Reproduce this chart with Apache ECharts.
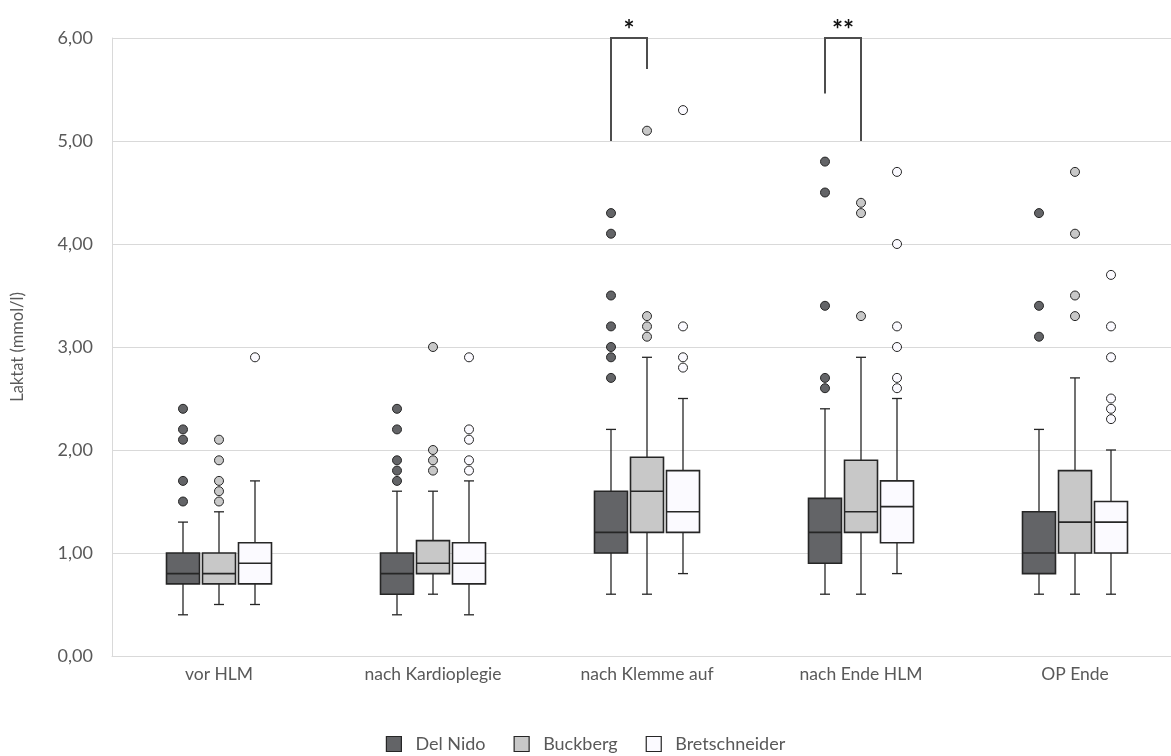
<!DOCTYPE html>
<html>
<head>
<meta charset="utf-8">
<script src="https://cdn.jsdelivr.net/npm/echarts@6/dist/echarts.min.js"></script>
<style>
  html, body { margin: 0; padding: 0; background: #ffffff; }
  #chart { width: 1171px; height: 756px; }
</style>
</head>
<body>
<div id="chart"></div>
<script>
// Time points of the lactate measurements
const categories = ['vor HLM', 'nach Kardioplegie', 'nach Klemme auf', 'nach Ende HLM', 'OP Ende'];
const groupNames = ['Del Nido', 'Buckberg', 'Bretschneider'];

// Five-number summaries per time point: [min, Q1, median, Q3, max] (mmol/l)
const delNidoBoxes = [
  [0.4, 0.7, 0.8, 1.0, 1.3],
  [0.4, 0.6, 0.8, 1.0, 1.6],
  [0.6, 1.0, 1.2, 1.6, 2.2],
  [0.6, 0.9, 1.2, 1.53, 2.4],
  [0.6, 0.8, 1.0, 1.4, 2.2]
];
const buckbergBoxes = [
  [0.5, 0.7, 0.8, 1.0, 1.4],
  [0.6, 0.8, 0.9, 1.12, 1.6],
  [0.6, 1.2, 1.6, 1.93, 2.9],
  [0.6, 1.2, 1.4, 1.9, 2.9],
  [0.6, 1.0, 1.3, 1.8, 2.7]
];
const bretschneiderBoxes = [
  [0.5, 0.7, 0.9, 1.1, 1.7],
  [0.4, 0.7, 0.9, 1.1, 1.7],
  [0.8, 1.2, 1.4, 1.8, 2.5],
  [0.8, 1.1, 1.45, 1.7, 2.5],
  [0.6, 1.0, 1.3, 1.5, 2.0]
];

// Outliers per time point (mmol/l)
const delNidoOutliers = [
  [2.4, 2.2, 2.1, 1.7, 1.5],
  [2.4, 2.2, 1.9, 1.8, 1.7],
  [4.3, 4.1, 3.5, 3.2, 3.0, 2.9, 2.7],
  [4.8, 4.5, 3.4, 2.7, 2.6],
  [4.3, 3.4, 3.1]
];
const buckbergOutliers = [
  [2.1, 1.9, 1.7, 1.6, 1.5],
  [3.0, 2.0, 1.9, 1.8],
  [5.1, 3.3, 3.2, 3.1],
  [4.4, 4.3, 3.3],
  [4.7, 4.1, 3.5, 3.3]
];
const bretschneiderOutliers = [
  [2.9],
  [2.9, 2.2, 2.1, 1.9, 1.8],
  [5.3, 3.2, 2.9, 2.8],
  [4.7, 4.0, 3.2, 3.0, 2.7, 2.6],
  [3.7, 3.2, 2.9, 2.5, 2.4, 2.3]
];

// Significance brackets: time point, compared groups, leg ends, top, marker
const bracketCategory = [2, 3];
const bracketFromGroup = [0, 0];
const bracketToGroup = [1, 1];
const bracketFromLow = [5.0, 5.46];
const bracketToLow = [5.7, 5.0];
const bracketTop = [6.0, 6.0];
const bracketLabels = ['*', '**'];

// Value axis
const yMin = 0, yMax = 6, yStep = 1;

// Styling
const fills = ['#636467', '#c8c8c8', '#fbfaff'];
const edge = '#262626';
const textGrey = '#595959';
const gridGrey = '#d9d9d9';
const FONT = 'Lato, "Open Sans", sans-serif';

// Layout of the three boxes inside one category band (pixels)
const SLOT_PX = 36;
const BOX_PX = 33;
const CAP_PX = 10;

function boxRenderer(slot) {
  return function (params, api) {
    const cat = api.value(0);
    const cx = api.coord([cat, 0])[0] + (slot - 1) * SLOT_PX;
    const py = (i) => api.coord([cat, api.value(i)])[1];
    const yLo = py(1), yQ1 = py(2), yMed = py(3), yQ3 = py(4), yHi = py(5);
    const hw = BOX_PX / 2, cw = CAP_PX / 2;
    const ls = { stroke: edge, lineWidth: 1.3 };
    return {
      type: 'group',
      children: [
        { type: 'line', shape: { x1: cx, y1: yHi, x2: cx, y2: yQ3 }, style: ls },
        { type: 'line', shape: { x1: cx, y1: yQ1, x2: cx, y2: yLo }, style: ls },
        { type: 'line', shape: { x1: cx - cw, y1: yHi, x2: cx + cw, y2: yHi }, style: ls },
        { type: 'line', shape: { x1: cx - cw, y1: yLo, x2: cx + cw, y2: yLo }, style: ls },
        { type: 'rect', shape: { x: cx - hw, y: yQ3, width: BOX_PX, height: yQ1 - yQ3 },
          style: { fill: fills[slot], stroke: edge, lineWidth: 1.6 } },
        { type: 'line', shape: { x1: cx - hw, y1: yMed, x2: cx + hw, y2: yMed },
          style: { stroke: edge, lineWidth: 1.6 } }
      ]
    };
  };
}

function boxData(boxes) {
  return boxes.map((b, i) => [i].concat(b));
}
function outlierData(outliers) {
  const out = [];
  outliers.forEach((vals, i) => vals.forEach(v => out.push([i, v])));
  return out;
}

const boxSets = [delNidoBoxes, buckbergBoxes, bretschneiderBoxes];
const outlierSets = [delNidoOutliers, buckbergOutliers, bretschneiderOutliers];

const series = [];
groupNames.forEach((name, slot) => {
  series.push({
    name: name,
    type: 'custom',
    renderItem: boxRenderer(slot),
    itemStyle: { color: fills[slot], borderColor: edge, borderWidth: 1.2 },
    encode: { x: 0, y: [1, 2, 3, 4, 5] },
    data: boxData(boxSets[slot]),
    clip: false,
    z: 2
  });
  series.push({
    name: name,
    type: 'scatter',
    symbol: 'circle',
    symbolSize: 9,
    symbolOffset: [(slot - 1) * SLOT_PX, 0],
    itemStyle: { color: fills[slot], borderColor: edge, borderWidth: 1, opacity: 1 },
    data: outlierData(outlierSets[slot]),
    clip: false,
    z: 3
  });
});

// Significance brackets with their markers
series.push({
  type: 'custom',
  renderItem: function (params, api) {
    const i = params.dataIndex;
    const cat = api.value(0);
    const base = api.coord([cat, 0])[0];
    const xL = base + (bracketFromGroup[i] - 1) * SLOT_PX;
    const xR = base + (bracketToGroup[i] - 1) * SLOT_PX;
    const yL = api.coord([cat, api.value(1)])[1];
    const yR = api.coord([cat, api.value(2)])[1];
    const yT = api.coord([cat, api.value(3)])[1];
    return {
      type: 'group',
      children: [
        { type: 'polyline', shape: { points: [[xL, yL], [xL, yT], [xR, yT], [xR, yR]] },
          style: { stroke: '#4d4d4d', lineWidth: 2, fill: null } },
        { type: 'text', x: (xL + xR) / 2, y: yT + 6,
          style: { text: bracketLabels[i], fill: '#111111', font: 'bold 26px ' + FONT,
                   textAlign: 'center', textVerticalAlign: 'bottom' } }
      ]
    };
  },
  encode: { x: 0, y: [1, 2, 3] },
  data: bracketCategory.map((c, i) => [c, bracketFromLow[i], bracketToLow[i], bracketTop[i]]),
  clip: false,
  z: 4,
  silent: true
});

const chart = echarts.init(document.getElementById('chart'), null, { renderer: 'canvas' });
chart.setOption({
  animation: false,
  backgroundColor: '#ffffff',
  textStyle: { fontFamily: FONT },
  grid: { left: 112, top: 38, width: 1070, height: 618, outerBoundsMode: 'none', containLabel: false },
  legend: {
    data: groupNames.map((n, i) => ({
      name: n,
      itemStyle: { color: fills[i], borderColor: edge, borderWidth: 1.2 }
    })),
    left: 'center',
    top: 730,
    icon: 'rect',
    itemWidth: 15,
    itemHeight: 15,
    itemGap: 28,
    textStyle: { color: textGrey, fontSize: 18, fontFamily: FONT, padding: [0, 0, 0, 9] }
  },
  xAxis: {
    type: 'category',
    data: categories,
    boundaryGap: true,
    axisLine: { show: true, lineStyle: { color: gridGrey, width: 1 } },
    axisTick: { show: false },
    axisLabel: { color: textGrey, fontSize: 17.5, margin: 9, fontFamily: FONT }
  },
  yAxis: {
    type: 'value',
    min: yMin,
    max: yMax,
    interval: yStep,
    name: 'Laktat (mmol/l)',
    nameLocation: 'middle',
    nameGap: 86,
    nameTextStyle: { color: textGrey, fontSize: 16.5, fontFamily: FONT },
    axisLine: { show: true, lineStyle: { color: gridGrey, width: 1 } },
    axisTick: { show: false },
    axisLabel: {
      color: textGrey, fontSize: 18, margin: 19, fontFamily: FONT,
      formatter: v => v.toFixed(2).replace('.', ',')
    },
    splitLine: { show: true, lineStyle: { color: gridGrey, width: 1 } }
  },
  series: series
});
</script>
</body>
</html>
